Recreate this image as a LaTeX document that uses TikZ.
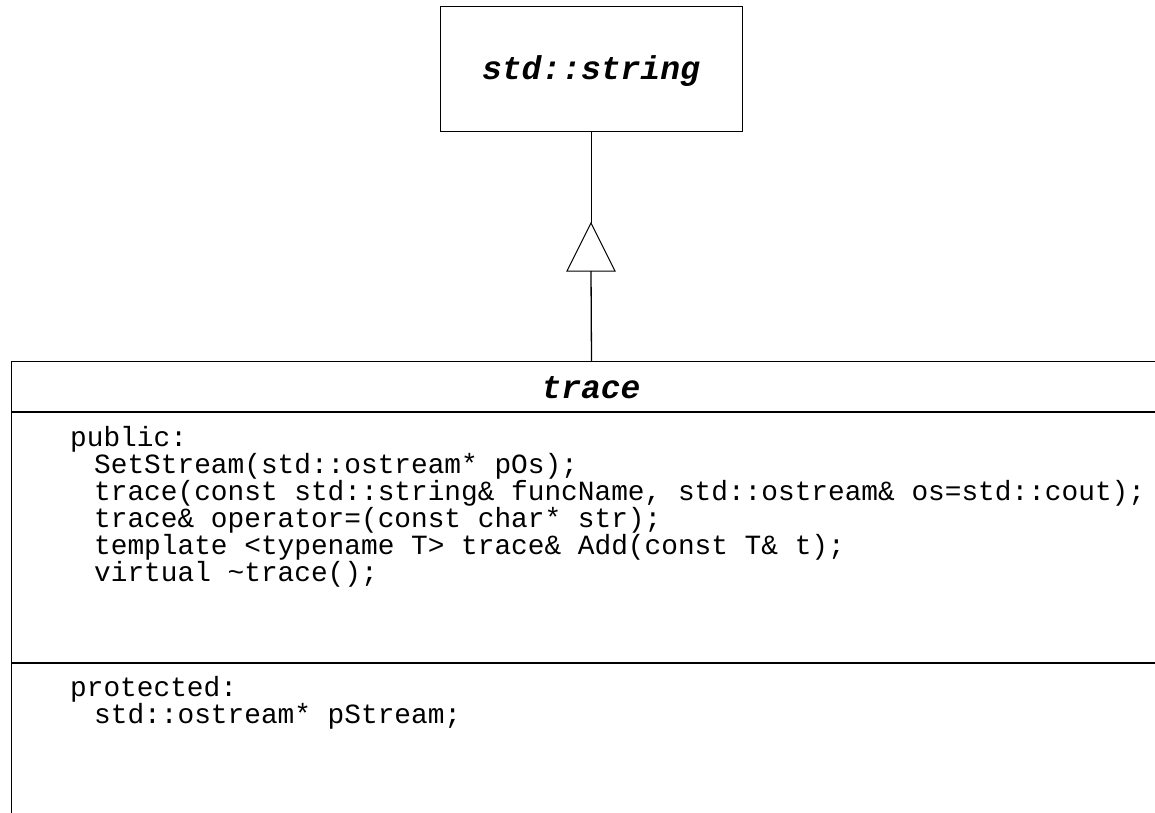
\documentclass[tikz,border=0pt]{standalone}
\usepackage{fontspec}
\setmonofont{Liberation Mono}
\begin{document}
\begin{tikzpicture}[x=1pt,y=-1pt,
  line/.style={draw=black, line width=1pt},
  clsbox/.style={draw=black, line width=1pt, inner sep=0pt},
  titletext/.style={font=\fontsize{33}{33}\selectfont\ttfamily\bfseries\itshape, inner sep=0pt, anchor=base},
  codetext/.style={font=\fontsize{27.8}{27.8}\selectfont\ttfamily, inner sep=0pt, anchor=base west},
]
\useasboundingbox (0,0) rectangle (1155,812);
\clip (0,0) rectangle (1155,812);
% base class
\node[clsbox, minimum width=302pt, minimum height=125pt] (base) at (591,68.5) {};
\node[titletext] (basename) at (591,79) {std::string};
% derived class (cut off at right and bottom)
\node[clsbox, anchor=north west, minimum width=1160pt, minimum height=480pt] (trace) at (11,361) {};
\node[titletext] (tracename) at (591,398) {trace};
\coordinate (sep1w) at (11,412);
\coordinate (sep1e) at (1200,412);
\coordinate (sep2w) at (11,663);
\coordinate (sep2e) at (1200,663);
\draw[line, line width=1.3pt] (sep1w) -- (sep1e);
\draw[line, line width=1.3pt] (sep2w) -- (sep2e);
% members
\node[codetext] (pub) at (70,446) {public:};
\node[codetext] (m1) at (94,473) {SetStream(std::ostream* pOs);};
\node[codetext] (m2) at (94,500) {trace(const std::string\& funcName, std::ostream\& os=std::cout);};
\node[codetext] (m3) at (94,527) {trace\& operator=(const char* str);};
\node[codetext] (m4) at (94,554) {template <typename T> trace\& Add(const T\& t);};
\node[codetext] (m5) at (94,581) {virtual \textasciitilde trace();};
\node[codetext] (prot) at (70,696) {protected:};
\node[codetext] (f1) at (94,723) {std::ostream* pStream;};
% generalization arrow
\coordinate (apex) at (591,223);
\coordinate (tl) at (567,271);
\coordinate (tr) at (615,271);
\coordinate (tb) at (591,271);
\draw[line] (base.south) -- (apex);
\draw[line, line join=miter] (apex) -- (tl) -- (tr) -- cycle;
\draw[line, line width=1.3pt] (tb) -- (trace.north);
\end{tikzpicture}
\end{document}
